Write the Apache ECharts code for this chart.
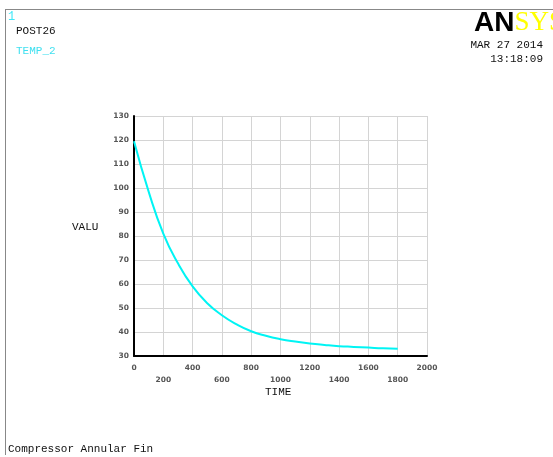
<!DOCTYPE html>
<html><head><meta charset="utf-8">
<script src="https://cdn.jsdelivr.net/npm/echarts@6/dist/echarts.min.js"></script>
<style>html,body{margin:0;padding:0;background:#fff}#c{width:553px;height:457px}</style>
</head><body><div id="c"></div>
<script>
const times = [0,100,200,300,400,500,600,700,800,900,1000,1100,1200,1300,1400,1500,1600,1700,1800];
const temps = [119.5,98.5,81,68.6,59,52,47,43.2,40.3,38.4,37,36,35.2,34.6,34.1,33.8,33.5,33.2,33.0];
const xTicks = {min:0,max:2000,interval:200};
const yTicks = {min:30,max:130,interval:10};

const chart = echarts.init(document.getElementById('c'), null, {renderer:'canvas'});
const mono = 'Liberation Mono, DejaVu Sans Mono, monospace';
chart.setOption({
  animation:false,
  backgroundColor:'#fff',
  grid:{left:134,right:126,top:116,bottom:101},
  xAxis:{type:'value',min:xTicks.min,max:xTicks.max,interval:xTicks.interval,
    axisLine:{show:true,onZero:false,lineStyle:{color:'#000',width:2}},
    axisTick:{show:false},
    splitLine:{show:true,lineStyle:{color:'#d4d4d4',width:1}},
    axisLabel:{fontSize:7.5,fontWeight:'bold',color:'#555',fontFamily:'DejaVu Sans',margin:6,lineHeight:12,
      showMaxLabel:true,showMinLabel:true,
      formatter:function(v){return (Math.round(v/200)%2===1)?'\n'+v:v+'\n';}}
  },
  yAxis:{type:'value',min:yTicks.min,max:yTicks.max,interval:yTicks.interval,
    axisLine:{show:true,onZero:false,lineStyle:{color:'#000',width:2}},
    axisTick:{show:false},
    splitLine:{show:true,lineStyle:{color:'#d4d4d4',width:1}},
    axisLabel:{fontSize:7.5,fontWeight:'bold',color:'#555',fontFamily:'DejaVu Sans',margin:5}
  },
  series:[{type:'line',data:times.map((t,i)=>[t,temps[i]]),smooth:true,showSymbol:false,
    lineStyle:{color:'#00f4f4',width:2},z:3}],
  graphic:[
    {type:'line',shape:{x1:5,y1:9.5,x2:553,y2:9.5},style:{stroke:'#888',lineWidth:1}},
    {type:'line',shape:{x1:5.5,y1:9,x2:5.5,y2:455},style:{stroke:'#888',lineWidth:1}},
    {type:'text',left:8,top:11,style:{text:'1',fill:'#40e8f8',font:'12px '+mono}},
    {type:'text',left:16,top:26,style:{text:'POST26',fill:'#111',font:'11px '+mono}},
    {type:'text',left:16,top:46,style:{text:'TEMP_2',fill:'#40e0f0',font:'11px '+mono}},
    {type:'text',right:10,top:40,style:{text:'MAR 27 2014',fill:'#111',font:'11px '+mono,align:'right'}},
    {type:'text',right:10,top:54,style:{text:'13:18:09',fill:'#111',font:'11px '+mono,align:'right'}},
    {type:'text',left:72,top:222,style:{text:'VALU',fill:'#111',font:'11px '+mono}},
    {type:'text',left:265,top:387,style:{text:'TIME',fill:'#111',font:'11px '+mono}},
    {type:'text',left:8,top:444,style:{text:'Compressor Annular Fin',fill:'#111',font:'11px '+mono}},
    {type:'text',left:474,top:9,style:{rich:{a:{fontFamily:'Liberation Sans Narrow, Liberation Sans',fontWeight:'bold',fontSize:28,fill:'#000'},b:{fontFamily:'Liberation Serif',fontSize:27,fill:'#ffff00'}},text:'{a|AN}{b|SYS}'}}
  ]
});
</script></body></html>
